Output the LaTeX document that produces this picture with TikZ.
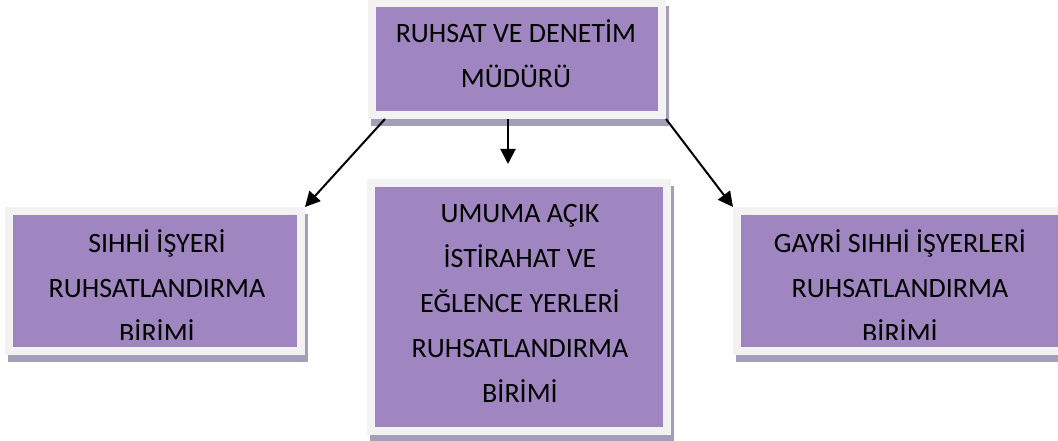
\documentclass[tikz,border=0pt]{standalone}
\usepackage{fontspec}
\setmainfont{Carlito}
\usetikzlibrary{arrows.meta}

\definecolor{boxpurple}{RGB}{159,134,192}
\definecolor{framegray}{RGB}{242,242,242}
\definecolor{shadowgray}{RGB}{165,158,185}

\begin{document}
\begin{tikzpicture}[
x=1pt, y=1pt,
unit/.style={rectangle, fill=boxpurple, draw=framegray, line width=8pt,
  preaction={draw=shadowgray, fill=shadowgray, transform canvas={xshift=3pt,yshift=-7pt}}},
unittext/.style={align=center, inner sep=0pt, font=\fontsize{28}{45}\selectfont},
arrow/.style={-{Triangle[length=15pt,width=15pt]}, line width=2pt} ]

\useasboundingbox (0,0) rectangle (1058,441);

% boxes
\node[unit, minimum width=290pt, minimum height=112pt] (mudur) at (517,382) {};

\node[unit, minimum width=292pt, minimum height=140pt] (sihhi) at (155,160) {};

\node[unit, minimum width=296pt, minimum height=248pt] (umuma) at (519,134) {};

\node[unit, minimum width=326pt, minimum height=140pt] (gayri) at (900,160) {};

% texts
\node[unittext] (mudurtxt) at (516,384.5) {RUHSAT VE DENETİM\strut\\MÜDÜRÜ\strut};

% the last line of the side units runs past the text area
\begin{scope}
\clip ([xshift=4pt,yshift=15pt]sihhi.south west) rectangle ([xshift=-4pt,yshift=-4pt]sihhi.north east);
\node[unittext] (sihhitxt) at (157,152) {SIHHİ İŞYERİ\strut\\RUHSATLANDIRMA\strut\\BİRİMİ\strut};
\end{scope}

\node[unittext] (umumatxt) at (520,137.5) {UMUMA AÇIK\strut\\İSTİRAHAT VE\strut\\EĞLENCE YERLERİ\strut\\RUHSATLANDIRMA\strut\\BİRİMİ\strut};

\begin{scope}
\clip ([xshift=4pt,yshift=15pt]gayri.south west) rectangle ([xshift=-4pt,yshift=-4pt]gayri.north east);
\node[unittext] (gayritxt) at (900,152) {GAYRİ SIHHİ İŞYERLERİ\strut\\RUHSATLANDIRMA\strut\\BİRİMİ\strut};
\end{scope}

% arrows
\draw[arrow] ([xshift=17pt]mudur.south west) -- (sihhi.north east);

\draw[arrow] ([xshift=-9pt]mudur.south) -- ([xshift=-11pt,yshift=15pt]umuma.north);

\draw[arrow] (mudur.south east) -- (gayri.north west);

\end{tikzpicture}
\end{document}
